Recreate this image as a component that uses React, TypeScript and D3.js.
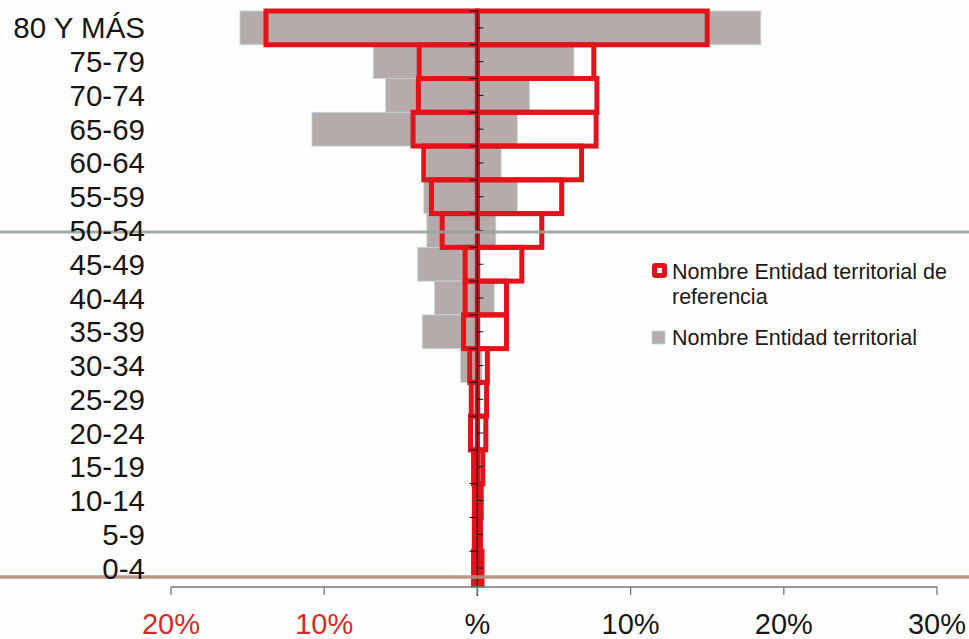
import React from "react";
import * as d3 from "d3";

const categories = ["80 Y MÁS", "75-79", "70-74", "65-69", "60-64", "55-59", "50-54", "45-49", "40-44", "35-39", "30-34", "25-29", "20-24", "15-19", "10-14", "5-9", "0-4"];
const grayLeft = [15.5, 6.8, 6.0, 10.8, 3.3, 3.5, 3.3, 3.9, 2.8, 3.6, 1.1, 0.2, 0.1, 0.1, 0.1, 0.1, 0.1];
const grayRight = [18.5, 6.3, 3.4, 2.6, 1.55, 2.6, 1.2, 0.2, 1.1, 0.2, 0.3, 0.2, 0.1, 0.1, 0.1, 0.1, 0.1];
const redLeft = [13.8, 3.8, 3.85, 4.2, 3.5, 3.0, 2.3, 0.8, 0.8, 0.9, 0.5, 0.4, 0.45, 0.25, 0.2, 0.2, 0.25];
const redRight = [15.0, 7.6, 7.8, 7.75, 6.8, 5.5, 4.2, 2.9, 1.9, 1.9, 0.65, 0.6, 0.55, 0.35, 0.25, 0.2, 0.3];
const tickValues = [-20, -10, 0, 10, 20, 30];
const tickLabels = ["20%", "10%", "%", "10%", "20%", "30%"];
const legendRef = ["Nombre Entidad territorial de", "referencia"];
const legendTerr = "Nombre Entidad territorial";

const W = 969, H = 639;
const RED = "#e3121b";
const GRAY = "#b4abaa";

export default function App() {
  const x = d3.scaleLinear().domain([-20, 30]).range([171, 937]);
  const y = d3.scaleBand<string>().domain(categories).range([11, 585]).padding(0);
  const bw = y.bandwidth();
  const x0 = x(0);
  const font = "'Liberation Sans', Arial, Helvetica, sans-serif";

  return (
    <svg width={W} height={H} style={{ position: "absolute", left: 0, top: 0, background: "#fff" }} fontFamily={font}>
      <rect x={0} y={0} width={W} height={H} fill="#fefefe" />
      {/* gray bars */}
      {categories.map((c, i) => (
        <g key={"g" + i}>
          <rect x={x(-grayLeft[i])} y={y(c)!} width={x0 - x(-grayLeft[i])} height={bw} fill={GRAY} stroke="#c4d6d8" strokeWidth={0.8} />
          <rect x={x0} y={y(c)!} width={x(grayRight[i]) - x0} height={bw} fill={GRAY} stroke="#c4d6d8" strokeWidth={0.8} />
        </g>
      ))}
      {/* red outline bars */}
      {categories.map((c, i) => (
        <g key={"r" + i}>
          <rect x={x(-redLeft[i])} y={y(c)!} width={x0 - x(-redLeft[i])} height={bw} fill="none" stroke={RED} strokeWidth={5} />
          <rect x={x0} y={y(c)!} width={x(redRight[i]) - x0} height={bw} fill="none" stroke={RED} strokeWidth={5} />
        </g>
      ))}
      {/* zero axis with ticks */}
      <line x1={x0} x2={x0} y1={10} y2={596} stroke="#111" strokeWidth={1.4} />
      {categories.map((c, i) => (
        <g key={"t" + i}>
          <line x1={x0 - 8} x2={x0} y1={y(c)!} y2={y(c)!} stroke="#111" strokeWidth={1} />
          <line x1={x0} x2={x0 + 6} y1={y(c)! + bw / 2} y2={y(c)! + bw / 2} stroke="#111" strokeWidth={1} />
        </g>
      ))}
      {/* scan lines */}
      <line x1={0} x2={W} y1={232} y2={232} stroke="#98a49c" strokeWidth={3} opacity={0.9} />
      <line x1={0} x2={W} y1={577} y2={577} stroke="#b48c7e" strokeWidth={3.5} opacity={0.9} />
      {/* x axis */}
      <line x1={x(-20)} x2={x(30)} y1={587} y2={587} stroke="#777" strokeWidth={1.3} />
      {tickValues.map((v, i) => (
        <g key={"x" + i}>
          <line x1={x(v)} x2={x(v)} y1={587} y2={595} stroke="#777" strokeWidth={1.3} />
          <text x={x(v)} y={634} textAnchor="middle" fontSize={29} fill={v < 0 ? "#d42a2a" : "#161616"}>{tickLabels[i]}</text>
        </g>
      ))}
      {/* category labels */}
      {categories.map((c, i) => (
        <text key={"l" + i} x={145} y={y(c)! + bw / 2 + 10.5} textAnchor="end" fontSize={29.5} fill="#161616">{c}</text>
      ))}
      {/* legend */}
      <rect x={654.5} y={265.5} width={10} height={10} fill="#fff" stroke={RED} strokeWidth={5} rx={1} />
      <text x={672} y={279} fontSize={21.5} fill="#1a1a1a">{legendRef[0]}</text>
      <text x={672} y={304} fontSize={21.5} fill="#1a1a1a">{legendRef[1]}</text>
      <rect x={652} y={331} width={13} height={13} fill={GRAY} stroke="#c4d6d8" strokeWidth={0.8} />
      <text x={672} y={345} fontSize={21.5} fill="#1a1a1a">{legendTerr}</text>
    </svg>
  );
}
